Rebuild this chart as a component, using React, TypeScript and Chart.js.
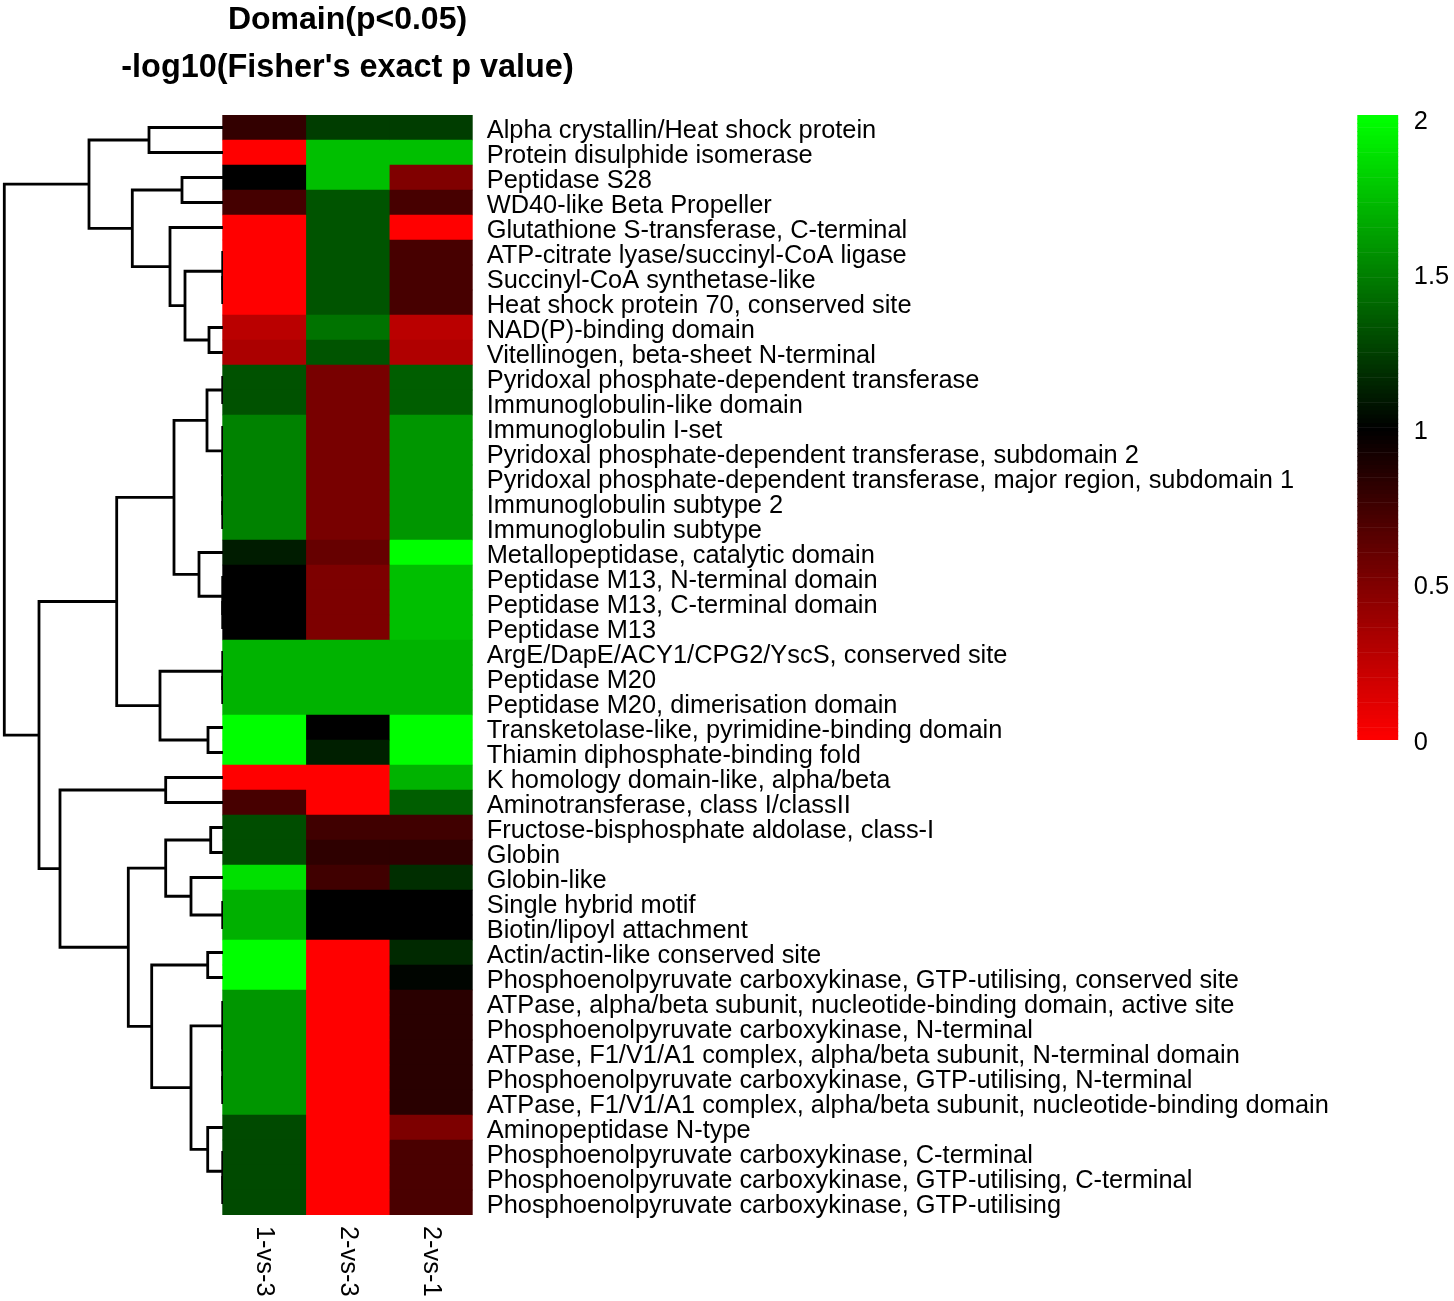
import React, { useEffect, useRef } from "react";
import { Chart, registerables } from "chart.js";

Chart.register(...registerables);

const FONT = "'Liberation Sans', Arial, Helvetica, sans-serif";

const titleText = "Domain(p<0.05)";
const subtitleText = "-log10(Fisher's exact p value)";

const rowLabels = [
  "Alpha crystallin/Heat shock protein",
  "Protein disulphide isomerase",
  "Peptidase S28",
  "WD40-like Beta Propeller",
  "Glutathione S-transferase, C-terminal",
  "ATP-citrate lyase/succinyl-CoA ligase",
  "Succinyl-CoA synthetase-like",
  "Heat shock protein 70, conserved site",
  "NAD(P)-binding domain",
  "Vitellinogen, beta-sheet N-terminal",
  "Pyridoxal phosphate-dependent transferase",
  "Immunoglobulin-like domain",
  "Immunoglobulin I-set",
  "Pyridoxal phosphate-dependent transferase, subdomain 2",
  "Pyridoxal phosphate-dependent transferase, major region, subdomain 1",
  "Immunoglobulin subtype 2",
  "Immunoglobulin subtype",
  "Metallopeptidase, catalytic domain",
  "Peptidase M13, N-terminal domain",
  "Peptidase M13, C-terminal domain",
  "Peptidase M13",
  "ArgE/DapE/ACY1/CPG2/YscS, conserved site",
  "Peptidase M20",
  "Peptidase M20, dimerisation domain",
  "Transketolase-like, pyrimidine-binding domain",
  "Thiamin diphosphate-binding fold",
  "K homology domain-like, alpha/beta",
  "Aminotransferase, class I/classII",
  "Fructose-bisphosphate aldolase, class-I",
  "Globin",
  "Globin-like",
  "Single hybrid motif",
  "Biotin/lipoyl attachment",
  "Actin/actin-like conserved site",
  "Phosphoenolpyruvate carboxykinase, GTP-utilising, conserved site",
  "ATPase, alpha/beta subunit, nucleotide-binding domain, active site",
  "Phosphoenolpyruvate carboxykinase, N-terminal",
  "ATPase, F1/V1/A1 complex, alpha/beta subunit, N-terminal domain",
  "Phosphoenolpyruvate carboxykinase, GTP-utilising, N-terminal",
  "ATPase, F1/V1/A1 complex, alpha/beta subunit, nucleotide-binding domain",
  "Aminopeptidase N-type",
  "Phosphoenolpyruvate carboxykinase, C-terminal",
  "Phosphoenolpyruvate carboxykinase, GTP-utilising, C-terminal",
  "Phosphoenolpyruvate carboxykinase, GTP-utilising",
];

const colLabels = ["1-vs-3", "2-vs-3", "2-vs-1"];

// -log10(p) values per comparison, in row order
const vs13 = [
  0.8, 0.0, 1.0, 0.73, 0.0, 0.0, 0.0, 0.0, 0.27, 0.33,
  1.32, 1.32, 1.51, 1.51, 1.51, 1.51, 1.51, 1.11, 1.0, 1.0,
  1.0, 1.7, 1.7, 1.7, 2.0, 2.0, 0.0, 0.72, 1.3, 1.3,
  1.88, 1.69, 1.69, 2.0, 2.0, 1.59, 1.59, 1.59, 1.59, 1.59,
  1.29, 1.29, 1.29, 1.29,
];
const vs23 = [
  1.24, 1.75, 1.75, 1.33, 1.33, 1.33, 1.33, 1.33, 1.45, 1.33,
  0.53, 0.53, 0.53, 0.53, 0.53, 0.53, 0.53, 0.6, 0.51, 0.51,
  0.51, 1.7, 1.7, 1.7, 1.0, 1.12, 0.0, 0.0, 0.75, 0.82,
  0.75, 1.0, 1.0, 0.0, 0.0, 0.0, 0.0, 0.0, 0.0, 0.0,
  0.0, 0.0, 0.0, 0.0,
];
const vs21 = [
  1.24, 1.75, 0.5, 0.72, 0.0, 0.72, 0.72, 0.72, 0.27, 0.31,
  1.37, 1.37, 1.59, 1.59, 1.59, 1.59, 1.59, 2.0, 1.75, 1.75,
  1.75, 1.7, 1.7, 1.7, 2.0, 2.0, 1.7, 1.37, 0.75, 0.82,
  1.18, 1.0, 1.0, 1.16, 1.02, 0.84, 0.84, 0.84, 0.84, 0.84,
  0.51, 0.71, 0.71, 0.71,
];

const legendTicks = [0, 0.5, 1, 1.5, 2];
const legendMin = 0;
const legendMax = 2.013;

// Row dendrogram, hclust style: negative = leaf (row number), positive = earlier merge
const merges: [number, number, number][] = [
  [-1, -2, 0.74],
  [-3, -4, 0.41],
  [-7, -8, 0.003],
  [-6, 3, 0.003],
  [-9, -10, 0.14],
  [4, 5, 0.38],
  [-5, 6, 0.53],
  [2, 7, 0.907],
  [1, 8, 1.34],
  [-11, -12, 0.003],
  [-16, -17, 0.003],
  [-15, 11, 0.003],
  [-14, 12, 0.003],
  [-13, 13, 0.003],
  [10, 14, 0.16],
  [-20, -21, 0.003],
  [-19, 16, 0.003],
  [-18, 17, 0.24],
  [15, 18, 0.49],
  [-23, -24, 0.003],
  [-22, 20, 0.003],
  [-25, -26, 0.15],
  [21, 22, 0.63],
  [19, 23, 1.063],
  [-27, -28, 0.573],
  [-29, -30, 0.123],
  [-32, -33, 0.003],
  [-31, 27, 0.32],
  [26, 28, 0.573],
  [-34, -35, 0.153],
  [-39, -40, 0.003],
  [-38, 31, 0.003],
  [-37, 32, 0.003],
  [-36, 33, 0.003],
  [-43, -44, 0.003],
  [-42, 35, 0.003],
  [-41, 36, 0.153],
  [34, 37, 0.32],
  [30, 38, 0.713],
  [29, 39, 0.947],
  [25, 40, 1.63],
  [24, 41, 1.84],
  [9, 42, 2.187],
];
const dendroMaxHeight = 2.23;

function heatColor(v: number): string {
  const t = Math.max(0, Math.min(2, v));
  if (t <= 1) {
    const r = Math.round(255 * (1 - t));
    return `rgb(${r},0,0)`;
  }
  const g = Math.round(255 * (t - 1));
  return `rgb(0,${g},0)`;
}

const heatTextPlugin = {
  id: "heatText",
  afterDraw(chart: any) {
    const { ctx, chartArea, scales } = chart;
    ctx.save();
    ctx.fillStyle = "#000";
    ctx.textAlign = "center";
    ctx.textBaseline = "alphabetic";
    const cx = (chartArea.left + chartArea.right) / 2;
    ctx.font = `bold 32px ${FONT}`;
    ctx.fillText(titleText, cx, 28.5);
    ctx.font = `bold 32.4px ${FONT}`;
    ctx.fillText(subtitleText, cx, 76.5);
    ctx.font = `25.4px ${FONT}`;
    ctx.textAlign = "left";
    ctx.textBaseline = "middle";
    colLabels.forEach((lab, i) => {
      const x = scales.x.getPixelForValue(i + 0.5);
      ctx.save();
      ctx.translate(x, chartArea.bottom + 11);
      ctx.rotate(Math.PI / 2);
      ctx.fillText(lab, 0, 0);
      ctx.restore();
    });
    ctx.restore();
  },
};

export default function App() {
  const heatRef = useRef<HTMLCanvasElement>(null);
  const dendRef = useRef<HTMLCanvasElement>(null);
  const legRef = useRef<HTMLCanvasElement>(null);

  useEffect(() => {
    const charts: Chart[] = [];
    const cols = [vs13, vs23, vs21];

    charts.push(
      new Chart(heatRef.current as HTMLCanvasElement, {
        type: "bar",
        data: {
          labels: rowLabels,
          datasets: cols.map((vals, c) => ({
            label: colLabels[c],
            data: vals.map(() => [c, c + 1]),
            backgroundColor: vals.map(heatColor),
            borderWidth: 0,
            grouped: false,
            barPercentage: 1,
            categoryPercentage: 1,
          })) as any,
        },
        options: {
          indexAxis: "y",
          responsive: false,
          animation: false,
          layout: { padding: { left: 222.3, top: 115, right: 0, bottom: 86 } },
          plugins: {
            legend: { display: false },
            tooltip: { enabled: false },
            title: { display: false },
          },
          scales: {
            x: { type: "linear", min: 0, max: 3, display: false },
            y: {
              type: "category",
              position: "right",
              grid: { display: false, drawTicks: false },
              border: { display: false },
              ticks: {
                autoSkip: false,
                padding: 14,
                labelOffset: 3,
                color: "#000",
                font: { family: FONT, size: 25.4 },
              },
              afterFit: (s: any) => {
                s.width = 981.3;
                s.paddingTop = 0;
                s.paddingBottom = 0;
              },
            },
          },
        } as any,
        plugins: [heatTextPlugin],
      })
    );

    // dendrogram
    const pos: number[] = [];
    const hts: number[] = [];
    const dendSets: any[] = [];
    merges.forEach(([a, b, h], k) => {
      const pa = a < 0 ? -a : pos[a - 1];
      const ha = a < 0 ? 0 : hts[a - 1];
      const pb = b < 0 ? -b : pos[b - 1];
      const hb = b < 0 ? 0 : hts[b - 1];
      pos[k] = (pa + pb) / 2;
      hts[k] = h;
      dendSets.push({
        data: [
          { x: ha, y: pa },
          { x: h, y: pa },
          { x: h, y: pb },
          { x: hb, y: pb },
        ],
        showLine: true,
        borderColor: "#000",
        borderWidth: 2.8,
        pointRadius: 0,
        pointHoverRadius: 0,
        fill: false,
        tension: 0,
        clip: false,
        borderJoinStyle: "miter",
        borderCapStyle: "butt",
      });
    });
    charts.push(
      new Chart(dendRef.current as HTMLCanvasElement, {
        type: "scatter",
        data: { datasets: dendSets },
        options: {
          responsive: false,
          animation: false,
          layout: { padding: 0 },
          plugins: { legend: { display: false }, tooltip: { enabled: false } },
          scales: {
            x: { type: "linear", min: 0, max: dendroMaxHeight, reverse: true, display: false },
            y: { type: "linear", min: 0.5, max: rowLabels.length + 0.5, reverse: true, display: false },
          },
        } as any,
      })
    );

    // colour key
    const N = 150;
    const legSets = Array.from({ length: N }, (_, i) => {
      const lo = legendMin + ((legendMax - legendMin) * i) / N;
      const hi = legendMin + ((legendMax - legendMin) * (i + 1)) / N;
      return {
        data: [[lo, hi]],
        backgroundColor: heatColor((lo + hi) / 2),
        borderWidth: 0,
        grouped: false,
        barPercentage: 1,
        categoryPercentage: 1,
      };
    });
    charts.push(
      new Chart(legRef.current as HTMLCanvasElement, {
        type: "bar",
        data: { labels: [""], datasets: legSets as any },
        options: {
          responsive: false,
          animation: false,
          layout: { padding: { left: 27.3, top: 20, bottom: 20, right: 0 } },
          plugins: { legend: { display: false }, tooltip: { enabled: false } },
          scales: {
            x: { display: false },
            y: {
              type: "linear",
              position: "right",
              min: legendMin,
              max: legendMax,
              grid: { display: false, drawTicks: false },
              border: { display: false },
              afterBuildTicks: (s: any) => {
                s.ticks = legendTicks.map((v) => ({ value: v }));
              },
              afterFit: (s: any) => {
                s.width = 55.7;
                s.paddingTop = 0;
                s.paddingBottom = 0;
              },
              ticks: {
                padding: 15.5,
                labelOffset: 2.5,
                color: "#000",
                font: { family: FONT, size: 25.4 },
                callback: (v: any) => String(v),
              },
            },
          },
        } as any,
      })
    );

    return () => {
      charts.forEach((c) => c.destroy());
    };
  }, []);

  return (
    <div
      style={{
        position: "absolute",
        left: 0,
        top: 0,
        width: 1454,
        height: 1301,
        background: "#fff",
        overflow: "hidden",
      }}
    >
      <canvas
        ref={heatRef}
        width={1454}
        height={1301}
        style={{ position: "absolute", left: 0, top: 0, width: 1454, height: 1301 }}
      />
      <canvas
        ref={dendRef}
        width={223}
        height={1100}
        style={{ position: "absolute", left: 0, top: 115, width: 223, height: 1100 }}
      />
      <canvas
        ref={legRef}
        width={124}
        height={665}
        style={{ position: "absolute", left: 1330, top: 95, width: 124, height: 665 }}
      />
    </div>
  );
}
